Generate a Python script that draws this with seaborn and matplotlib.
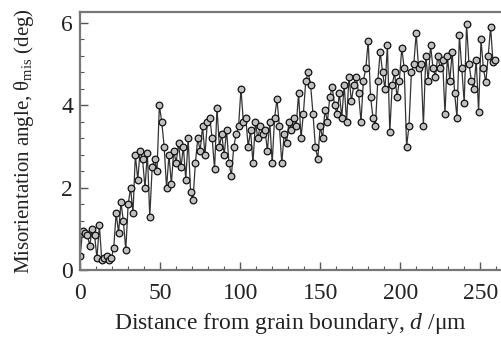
import numpy as np
import pandas as pd
import seaborn as sns
import matplotlib.pyplot as plt
from matplotlib.ticker import MultipleLocator

# distance from grain boundary, measured every 1.5 um
distance = np.arange(0, 260, 1.5)

# misorientation angle (deg)
angle = [
    0.35, 0.95, 0.9, 0.85, 0.6, 1.0, 0.85, 0.3, 1.1, 0.25,
    0.3, 0.35, 0.25, 0.3, 0.55, 1.4, 0.9, 1.65, 1.2, 0.5,
    1.6, 2.0, 1.4, 2.8, 2.2, 2.9, 2.7, 2.0, 2.85, 1.3,
    2.5, 2.7, 2.4, 4.0, 3.6, 3.0, 2.0, 2.8, 2.1, 2.9,
    2.6, 3.1, 2.5, 3.0, 2.2, 3.2, 1.9, 1.7, 2.6, 3.2,
    2.9, 3.5, 2.8, 3.6, 3.7, 3.2, 2.45, 3.95, 3.0, 3.3,
    2.8, 3.4, 2.6, 2.3, 3.0, 3.3, 3.5, 4.4, 3.6, 3.7,
    3.0, 3.4, 2.6, 3.6, 3.2, 3.5, 3.3, 3.4, 2.9, 3.6,
    2.6, 3.7, 4.15, 3.5, 2.6, 3.3, 3.1, 3.6, 3.4, 3.7,
    3.5, 4.3, 3.2, 3.8, 4.6, 4.8, 4.5, 3.8, 3.0, 2.7,
    3.5, 3.2, 3.9, 3.6, 4.2, 4.45, 4.0, 3.8, 4.3, 3.7,
    4.5, 3.6, 4.7, 4.1, 4.5, 4.7, 4.3, 3.6, 4.6, 4.9,
    5.56, 4.2, 3.7, 3.5, 4.6, 5.3, 4.8, 4.4, 5.46, 3.35,
    4.5, 4.8, 4.2, 4.6, 5.4, 4.9, 3.0, 3.5, 4.8, 5.0,
    5.75, 4.9, 5.0, 3.5, 5.2, 4.6, 5.46, 4.9, 4.7, 5.2,
    4.9, 5.1, 3.8, 5.2, 4.6, 5.3, 4.3, 3.7, 5.7, 4.9,
    4.07, 5.97, 5.0, 4.6, 4.4, 5.1, 3.85, 5.6, 4.9, 4.56,
    5.2, 5.9, 5.05, 5.1,
]

df = pd.DataFrame({'d': distance, 'theta': angle})

sns.set_style('ticks')
plt.rcParams['font.family'] = ['Liberation Serif', 'DejaVu Serif']
plt.rcParams['mathtext.fontset'] = 'custom'
plt.rcParams['mathtext.rm'] = 'Liberation Serif'
plt.rcParams['mathtext.it'] = 'Liberation Serif:italic'

fig = plt.figure(figsize=(5.01, 3.38), dpi=100)
ax = fig.add_axes([0.16, 0.20, 0.84, 0.765])

sns.lineplot(data=df, x='d', y='theta', ax=ax, color='#333333', lw=0.9,
             marker='o', markersize=4.8, markerfacecolor='#c0c0c0',
             markeredgecolor='#111111', markeredgewidth=0.9)

ax.set_xlim(0, 263)
ax.set_ylim(0, 6.27)
ax.xaxis.set_major_locator(MultipleLocator(50))
ax.xaxis.set_minor_locator(MultipleLocator(10))
ax.yaxis.set_major_locator(MultipleLocator(2))
ax.yaxis.set_minor_locator(MultipleLocator(0.4))
ax.tick_params(which='both', direction='in', colors='#555555', labelcolor='#222222',
               labelsize=17)
ax.tick_params(which='major', length=6, width=1)
ax.tick_params(which='minor', length=3, width=0.8)
ax.tick_params(axis='x', which='major', pad=9)
ax.tick_params(axis='y', which='major', pad=5)

for side in ['left', 'bottom', 'top']:
    ax.spines[side].set_color('#777777')
    ax.spines[side].set_linewidth(1.6)
ax.spines['right'].set_visible(False)

ax.set_xlabel('Distance from grain boundary, $d$ /μm', fontsize=17, color='#222222', labelpad=5)
ax.set_ylabel(r'Misorientation angle, θ$_{\rm mis}$ (deg)', fontsize=15, color='#222222', labelpad=18)

fig.savefig('out.png', dpi=100)
